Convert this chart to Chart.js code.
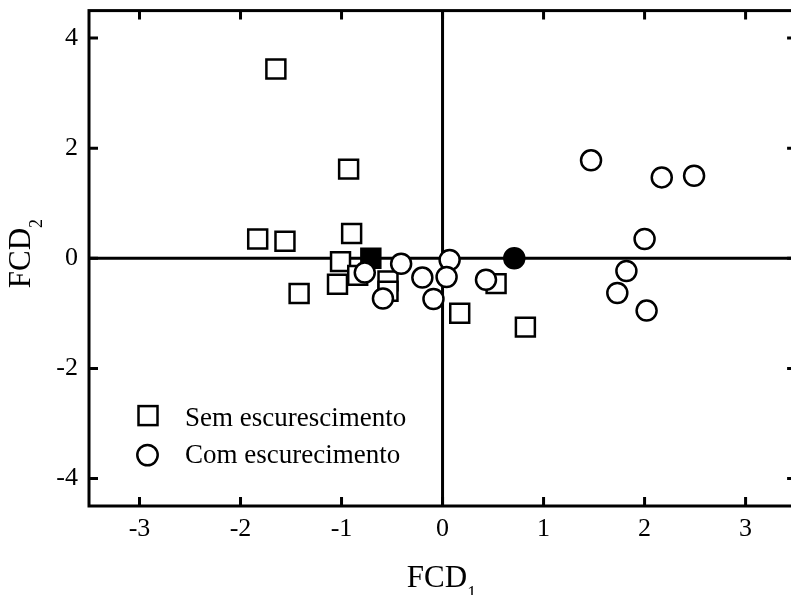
<!DOCTYPE html>
<html>
<head>
<meta charset="utf-8">
<script src="https://cdn.jsdelivr.net/npm/chart.js@4.4.1/dist/chart.umd.min.js"></script>
<style>
  html, body { margin: 0; padding: 0; background: #fff; overflow: hidden; }
  #wrap { position: relative; width: 791px; height: 595px; overflow: hidden; }
  #chart { position: absolute; left: 0; top: 0; }
</style>
</head>
<body>
<div id="wrap"><canvas id="chart" width="800" height="595"></canvas></div>
<script>
// "Sem escurescimento" (squares)
const semX = [-1.65, -0.93, -1.83, -1.56, -0.90, -1.01, -1.42, -1.04, -0.84, -0.54, -0.54, 0.53, 0.17, 0.82];
const semY = [3.44, 1.62, 0.35, 0.31, 0.45, -0.06, -0.64, -0.47, -0.31, -0.41, -0.60, -0.46, -1.00, -1.25];
// "Com escurecimento" (circles)
const comX = [-0.77, -0.59, -0.41, -0.20, -0.09, 0.07, 0.04, 0.43, 1.47, 2.17, 2.49, 2.00, 1.82, 1.73, 2.02];
const comY = [-0.26, -0.73, -0.10, -0.35, -0.74, -0.03, -0.34, -0.39, 1.78, 1.47, 1.50, 0.35, -0.23, -0.63, -0.95];
// group centroids (filled markers)
const semCentroid = [-0.71, 0.0];
const comCentroid = [0.71, 0.0];

const xTickValues = [-3, -2, -1, 0, 1, 2, 3];
const yTickValues = [-4, -2, 0, 2, 4];
const legendLabels = ["Sem escurescimento", "Com escurecimento"];
const xTitle = ["FCD", "1"];
const yTitle = ["FCD", "2"];

const serif = "\"Liberation Serif\", \"Times New Roman\", Times, serif";

// where the plot box should land on the page
const target = { left: 89, top: 11, right: 796.5, bottom: 506 };

function toPoints(xs, ys) {
  return xs.map((v, i) => ({ x: v, y: ys[i] }));
}

// draws the zero lines, box, inward ticks, axis titles and the legend
const framePlugin = {
  id: "frame",
  beforeDatasetsDraw(chart) {
    const { ctx, chartArea: a, scales: { x, y } } = chart;
    ctx.save();
    ctx.strokeStyle = "#000";
    ctx.lineWidth = 3;
    ctx.beginPath();
    ctx.moveTo(a.left, y.getPixelForValue(0));
    ctx.lineTo(a.right, y.getPixelForValue(0));
    ctx.moveTo(x.getPixelForValue(0), a.top);
    ctx.lineTo(x.getPixelForValue(0), a.bottom);
    ctx.stroke();
    ctx.restore();
  },
  afterDraw(chart) {
    const { ctx, chartArea: a, scales: { x, y } } = chart;
    const tick = 9;
    ctx.save();
    ctx.strokeStyle = "#000";
    ctx.lineWidth = 3;
    ctx.lineCap = "square";
    ctx.strokeRect(a.left, a.top, a.right - a.left, a.bottom - a.top);
    ctx.lineCap = "butt";
    ctx.beginPath();
    for (const v of xTickValues) {
      const px = x.getPixelForValue(v);
      ctx.moveTo(px, a.bottom);
      ctx.lineTo(px, a.bottom - tick);
      ctx.moveTo(px, a.top);
      ctx.lineTo(px, a.top + tick);
    }
    for (const v of yTickValues) {
      const py = y.getPixelForValue(v);
      ctx.moveTo(a.left, py);
      ctx.lineTo(a.left + tick, py);
      ctx.moveTo(a.right, py);
      ctx.lineTo(a.right - tick, py);
    }
    ctx.stroke();

    // from here on use page coordinates
    ctx.translate(a.left - target.left, a.top - target.top);

    // axis titles with subscripts
    ctx.fillStyle = "#000";
    ctx.textBaseline = "alphabetic";
    ctx.textAlign = "left";
    const big = "31px " + serif;
    const small = "18px " + serif;
    ctx.font = big;
    const wMain = ctx.measureText(xTitle[0]).width;
    ctx.font = small;
    const wSub = ctx.measureText(xTitle[1]).width;
    const xStart = 441.5 - (wMain + wSub) / 2;
    ctx.font = big;
    ctx.fillText(xTitle[0], xStart, 587);
    ctx.font = small;
    ctx.fillText(xTitle[1], xStart + wMain, 599);

    ctx.save();
    ctx.translate(30, 254 + (wMain + wSub) / 2);
    ctx.rotate(-Math.PI / 2);
    ctx.font = big;
    ctx.fillText(yTitle[0], 0, 0);
    ctx.font = small;
    ctx.fillText(yTitle[1], wMain, 12);
    ctx.restore();

    // legend
    ctx.lineWidth = 2.5;
    ctx.strokeRect(148 - 9.5, 416 - 9.5, 19, 19);
    ctx.beginPath();
    ctx.arc(147.5, 455.5, 10.2, 0, Math.PI * 2);
    ctx.stroke();
    ctx.font = "27px " + serif;
    ctx.fillText(legendLabels[0], 185, 426);
    ctx.fillText(legendLabels[1], 185, 463);
    ctx.restore();
  }
};

function build(canvas) {
  return new Chart(canvas, {
    type: "scatter",
    data: {
      datasets: [
        {
          label: legendLabels[0],
          data: toPoints(semX.concat([semCentroid[0]]), semY.concat([semCentroid[1]])),
          pointStyle: "rect",
          pointRadius: 13.4,
          pointHoverRadius: 13.4,
          borderWidth: 2.5,
          borderColor: "#000",
          backgroundColor: semX.map(() => "#fff").concat(["#000"]),
          order: 2,
        },
        {
          label: legendLabels[1],
          data: toPoints(comX.concat([comCentroid[0]]), comY.concat([comCentroid[1]])),
          pointStyle: "circle",
          pointRadius: 10,
          pointHoverRadius: 10,
          borderWidth: 2.5,
          borderColor: "#000",
          backgroundColor: comX.map(() => "#fff").concat(["#000"]),
          order: 1,
        },
      ],
    },
    options: {
      responsive: false,
      maintainAspectRatio: false,
      animation: false,
      devicePixelRatio: 1,
      layout: { padding: { top: 11, right: 3.5, left: 0, bottom: 0 } },
      plugins: {
        legend: { display: false },
        tooltip: { enabled: false },
      },
      scales: {
        x: {
          type: "linear",
          min: -3.5,
          max: 3.5,
          grid: { display: false, drawTicks: false },
          border: { display: false },
          afterBuildTicks: (scale) => { scale.ticks = xTickValues.map((v) => ({ value: v })); },
          afterFit: (scale) => { scale.height = 89; },
          ticks: {
            color: "#000",
            padding: 8,
            maxRotation: 0,
            font: { family: serif, size: 26 },
            callback: (v) => String(v),
          },
        },
        y: {
          type: "linear",
          min: -4.5,
          max: 4.5,
          grid: { display: false, drawTicks: false },
          border: { display: false },
          afterBuildTicks: (scale) => { scale.ticks = yTickValues.map((v) => ({ value: v })); },
          afterFit: (scale) => { scale.width = 89; },
          ticks: {
            color: "#000",
            padding: 11,
            font: { family: serif, size: 26 },
            callback: (v) => String(v),
          },
        },
      },
    },
    plugins: [framePlugin],
  });
}

function createChart() {
  const canvas = document.getElementById("chart");
  let chart = build(canvas);
  let a = chart.chartArea;
  // Chart.js reserves room for edge labels; grow the canvas so the plot box keeps its size
  const dw = Math.round((target.right - target.left) - (a.right - a.left));
  const dh = Math.round((target.bottom - target.top) - (a.bottom - a.top));
  if (dw !== 0 || dh !== 0) {
    chart.destroy();
    canvas.width = 800 + dw;
    canvas.height = 595 + dh;
    chart = build(canvas);
    a = chart.chartArea;
  }
  canvas.style.left = (target.left - a.left) + "px";
  canvas.style.top = (target.top - a.top) + "px";
}

if (document.fonts && document.fonts.load) {
  document.fonts.load("26px \"Liberation Serif\"").then(createChart, createChart);
} else {
  createChart();
}
</script>
</body>
</html>
